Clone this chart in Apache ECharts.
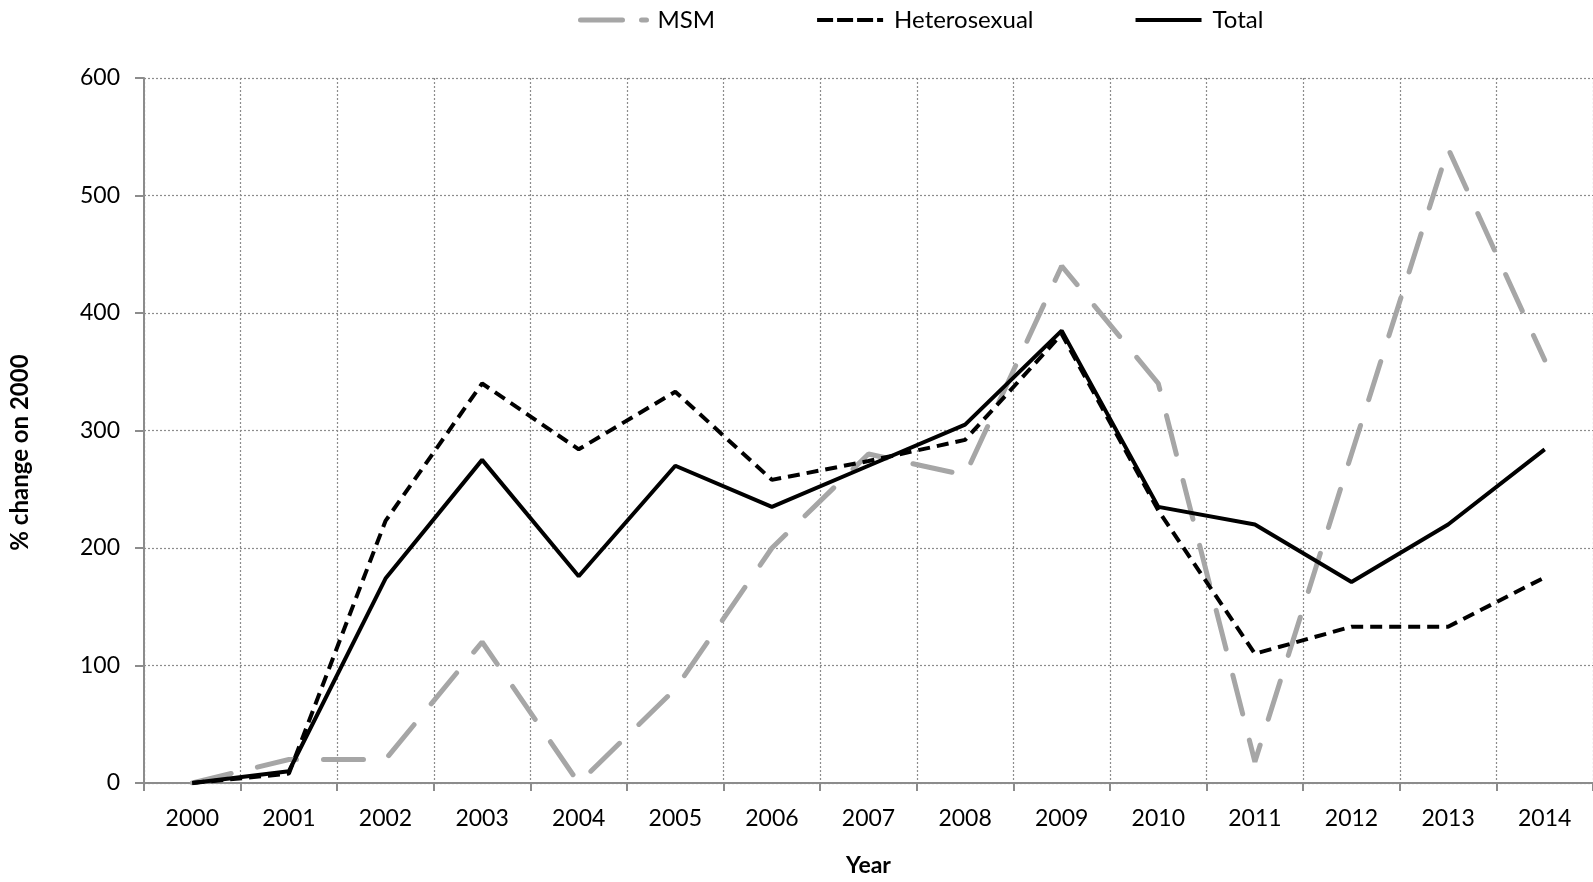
<!DOCTYPE html>
<html>
<head>
<meta charset="utf-8">
<script src="https://cdn.jsdelivr.net/npm/echarts@6/dist/echarts.min.js"></script>
<style>
html,body{margin:0;padding:0;background:#fff;}
#chart{width:1593px;height:882px;}
</style>
</head>
<body>
<div id="chart"></div>
<script>
const years = ['2000','2001','2002','2003','2004','2005','2006','2007','2008','2009','2010','2011','2012','2013','2014'];
const msm = [0, 20, 20, 120, 0, 80, 200, 280, 262, 440, 340, 18, 280, 540, 360];
const heterosexual = [0, 8, 223, 340, 284, 333, 258, 274, 292, 382, 232, 110, 133, 133, 175];
const total = [0, 10, 174, 275, 176, 270, 235, 270, 305, 385, 235, 220, 171, 220, 284];
const yTicks = {min: 0, max: 600, interval: 100};

const FONT = 'Lato';
const chart = echarts.init(document.getElementById('chart'), null, {renderer: 'canvas'});
const msmStyle = {color: '#a6a6a6', width: 5, type: [40, 27], cap: 'round'};
const hetStyle = {color: '#000000', width: 4, type: [12, 7], cap: 'butt'};
const totStyle = {color: '#000000', width: 4, type: 'solid'};
const noSym = {color: 'rgba(0,0,0,0)', borderWidth: 0, opacity: 0};

chart.setOption({
  animation: false,
  backgroundColor: '#ffffff',
  textStyle: {fontFamily: FONT},
  legend: {
    left: 573, top: 3,
    itemWidth: 66, itemHeight: 22, itemGap: 100,
    textStyle: {fontFamily: FONT, fontSize: 24, color: '#000', padding: [0, 0, 0, 6]},
    data: [
      {name: 'MSM', itemStyle: noSym, lineStyle: {color: '#a6a6a6', width: 5, type: [42, 19], cap: 'round'}},
      {name: 'Heterosexual', itemStyle: noSym, lineStyle: {color: '#000', width: 4, type: [16, 4]}},
      {name: 'Total', itemStyle: noSym, lineStyle: {color: '#000', width: 4, type: 'solid'}}
    ]
  },
  grid: {left: 142, right: 0, top: 78, bottom: 93, containLabel: false},
  xAxis: {
    type: 'category',
    data: years,
    boundaryGap: true,
    name: 'Year',
    nameLocation: 'middle',
    nameGap: 71,
    nameTextStyle: {fontFamily: FONT, fontSize: 23, fontWeight: 'bold', color: '#000'},
    axisLine: {show: true, lineStyle: {color: '#8c8c8c', width: 2}},
    axisTick: {show: true, alignWithLabel: false, length: 8, lineStyle: {color: '#8c8c8c', width: 2}},
    axisLabel: {fontFamily: FONT, fontSize: 23, color: '#000', margin: 24},
    splitLine: {show: true, lineStyle: {color: '#8c8c8c', width: 1.2, type: [2, 2]}}
  },
  yAxis: {
    type: 'value',
    min: yTicks.min, max: yTicks.max, interval: yTicks.interval,
    name: '% change on 2000',
    nameLocation: 'middle',
    nameRotate: 90,
    nameGap: 112,
    nameTextStyle: {fontFamily: FONT, fontSize: 24, fontWeight: 'bold', color: '#000', padding: [0, 44, 0, 0]},
    axisLine: {show: true, lineStyle: {color: '#8c8c8c', width: 2}},
    axisTick: {show: true, length: 9, lineStyle: {color: '#8c8c8c', width: 2}},
    axisLabel: {fontFamily: FONT, fontSize: 23, color: '#000', margin: 24},
    splitLine: {show: true, lineStyle: {color: '#8c8c8c', width: 1.2, type: [2, 2]}}
  },
  series: [
    {name: 'MSM', type: 'line', data: msm, symbol: 'none', lineStyle: msmStyle, itemStyle: {color: '#a6a6a6'}, z: 2},
    {name: 'Heterosexual', type: 'line', data: heterosexual, symbol: 'none', lineStyle: hetStyle, itemStyle: {color: '#000'}, z: 3},
    {name: 'Total', type: 'line', data: total, symbol: 'none', lineStyle: totStyle, itemStyle: {color: '#000'}, z: 4}
  ]
});
</script>
</body>
</html>
